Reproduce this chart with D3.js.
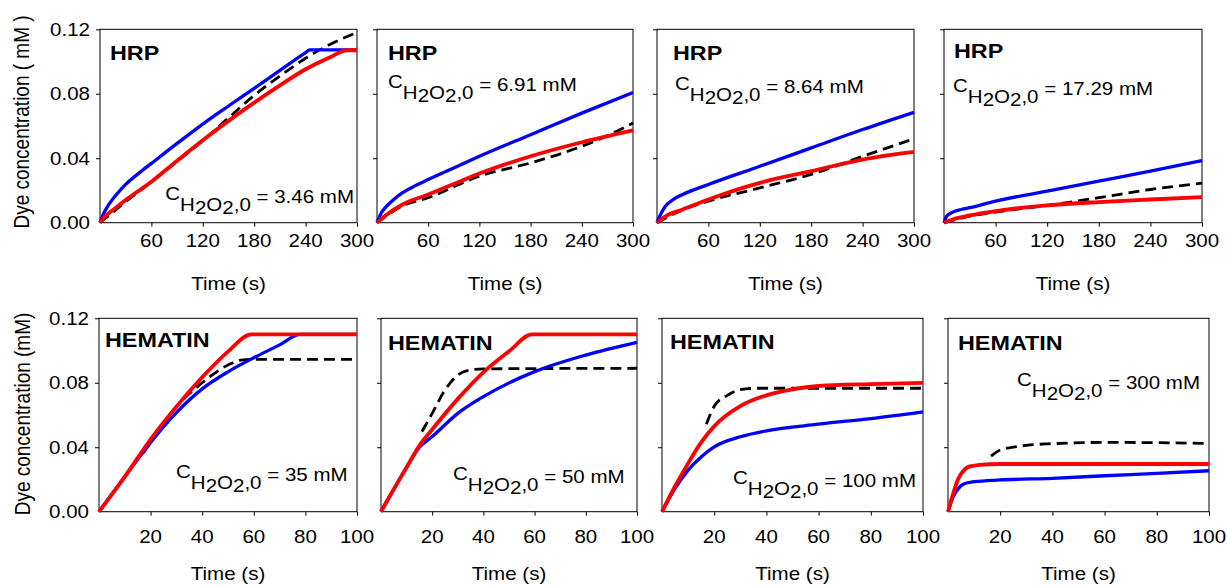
<!DOCTYPE html>
<html><head><meta charset="utf-8">
<script src="https://cdn.jsdelivr.net/npm/d3@7"></script>
<style>
html,body{margin:0;padding:0;background:#fff;}
svg text{font-family:"Liberation Sans",Arial,sans-serif;fill:#000;white-space:pre;}
</style></head>
<body>
<svg id="chart" width="1227" height="585"></svg>
<script>
// ---------- data ----------
const hrpTimeTicks = [60, 120, 180, 240, 300];
const hematinTimeTicks = [20, 40, 60, 80, 100];
const concTicks = [0, 0.04, 0.08, 0.12];
const concTickLabels = ["0.00", "0.04", "0.08", "0.12"];

const panelEnzymes = ["HRP", "HRP", "HRP", "HRP", "HEMATIN", "HEMATIN", "HEMATIN", "HEMATIN"];
const panelH2O2 = ["3.46", "6.91", "8.64", "17.29", "35", "50", "100", "300"];

// HRP, C = 3.46 mM
const p1Blue = [[0,0],[5,0.0065],[10,0.011],[20,0.018],[30,0.0238],[45,0.0306],[60,0.0368],[90,0.0492],[120,0.0612],[150,0.0724],[180,0.0834],[210,0.0945],[240,0.1055],[245,0.1072],[300,0.1072]];
const p1Red = [[0,0],[5,0.0035],[10,0.0058],[20,0.0099],[30,0.0141],[60,0.0254],[90,0.0385],[120,0.0512],[150,0.0632],[180,0.0745],[210,0.0852],[240,0.0952],[270,0.1030],[288,0.107],[300,0.107]];
const p1Dashed = [[0,0],[30,0.013],[60,0.0254],[90,0.038],[120,0.051],[150,0.065],[180,0.079],[210,0.091],[240,0.102],[270,0.111],[300,0.118]];
// HRP, C = 6.91 mM
const p2Blue = [[0,0],[5,0.006],[10,0.0095],[20,0.0145],[30,0.0186],[45,0.023],[60,0.0268],[90,0.034],[120,0.0412],[180,0.0546],[240,0.068],[300,0.0808]];
const p2Red = [[0,0],[10,0.0045],[30,0.0113],[60,0.0175],[90,0.024],[120,0.0305],[180,0.0412],[240,0.0499],[300,0.0573]];
const p2Dashed = [[0,0],[30,0.0105],[60,0.0155],[120,0.0289],[180,0.0371],[240,0.0474],[270,0.054],[300,0.0619]];
// HRP, C = 8.64 mM
const p3Blue = [[0,0],[5,0.006],[10,0.0103],[20,0.0148],[30,0.0175],[60,0.0237],[120,0.035],[180,0.0464],[240,0.0578],[300,0.0685]];
const p3Red = [[0,0],[10,0.004],[30,0.0082],[60,0.0144],[120,0.0247],[180,0.032],[240,0.0392],[300,0.0439]];
const p3Dashed = [[0,0],[30,0.008],[60,0.0134],[120,0.0216],[180,0.030],[240,0.0412],[300,0.052]];
// HRP, C = 17.29 mM
const p4Blue = [[0,0],[3,0.004],[10,0.0065],[20,0.0082],[30,0.0093],[60,0.0134],[120,0.0196],[180,0.0258],[240,0.032],[300,0.0386]];
const p4Red = [[0,0],[10,0.002],[30,0.0045],[60,0.0072],[120,0.0107],[180,0.0128],[240,0.0144],[300,0.0159]];
const p4Dashed = [[0,0],[30,0.004],[60,0.0066],[120,0.0107],[180,0.0155],[240,0.0206],[300,0.0245]];
// HEMATIN, C = 35 mM
const p5Blue = [[0,0],[10,0.0217],[20,0.043],[30,0.0615],[40,0.0762],[50,0.0868],[60,0.0955],[70,0.1035],[78,0.110],[100,0.110]];
const p5Red = [[0,0],[10,0.0217],[20,0.0449],[30,0.0652],[40,0.0834],[50,0.0993],[59,0.110],[100,0.110]];
const p5Dashed = [[17,0.0362],[20,0.043],[30,0.065],[40,0.080],[50,0.091],[55,0.0941],[60,0.0945],[100,0.0945]];
// HEMATIN, C = 50 mM
const p6Blue = [[0,0],[5,0.014],[10,0.0275],[15,0.04],[20,0.0466],[30,0.061],[40,0.0714],[60,0.0869],[80,0.0972],[100,0.1051]];
const p6Red = [[0,0],[5,0.014],[10,0.0275],[15,0.041],[20,0.0510],[30,0.0700],[40,0.0865],[50,0.0995],[59,0.110],[100,0.110]];
const p6Dashed = [[16,0.0497],[20,0.061],[25,0.0755],[30,0.0848],[35,0.0879],[40,0.0886],[100,0.089]];
// HEMATIN, C = 100 mM
const p7Blue = [[0,0],[5,0.0144],[10,0.0258],[15,0.034],[20,0.0402],[30,0.0465],[40,0.0502],[60,0.0543],[80,0.0578],[100,0.062]];
const p7Red = [[0,0],[5,0.0158],[10,0.0300],[15,0.0430],[20,0.0530],[30,0.0655],[40,0.0722],[50,0.0759],[60,0.078],[80,0.0792],[100,0.080]];
const p7Dashed = [[17,0.0543],[20,0.0654],[25,0.0722],[30,0.0758],[35,0.0766],[100,0.0766]];
// HEMATIN, C = 300 mM
const p8Blue = [[0,0],[2,0.0093],[4,0.0145],[6,0.0172],[10,0.0186],[20,0.0197],[40,0.0207],[60,0.0223],[80,0.0238],[100,0.0254]];
const p8Red = [[0,0],[2,0.0114],[4,0.0207],[6,0.0255],[8,0.028],[12,0.029],[20,0.0296],[100,0.0296]];
const p8Dashed = [[16.5,0.0345],[20,0.0383],[25,0.040],[30,0.0412],[40,0.0422],[60,0.043],[100,0.0424]];

const blueSeries = [p1Blue,p2Blue,p3Blue,p4Blue,p5Blue,p6Blue,p7Blue,p8Blue];
const redSeries = [p1Red,p2Red,p3Red,p4Red,p5Red,p6Red,p7Red,p8Red];
const dashedSeries = [p1Dashed,p2Dashed,p3Dashed,p4Dashed,p5Dashed,p6Dashed,p7Dashed,p8Dashed];

// ---------- layout ----------
const SX = 1.14;
const FONT = 18;
const rows = [
  {top: 29.3, bottom: 222.7, tmax: 300, ticks: hrpTimeTicks, tickBase: 24.5, titleY: 290, ytitle: "Dye concentration ( mM )", ytitleCenter: 122, ytitleX: 29},
  {top: 318.3, bottom: 511.7, tmax: 100, ticks: hematinTimeTicks, tickBase: 31.5, titleY: 580, ytitle: "Dye concentration (mM)", ytitleCenter: 414, ytitleX: 30}
];
const panels = [
  {row:0, x0:100, x1:357, lab:[110,60], ann:[354,203,"end"]},
  {row:0, x0:377, x1:633, lab:[388,60], ann:[388,91,"start"]},
  {row:0, x0:657, x1:914, lab:[673,60], ann:[675,93,"start"]},
  {row:0, x0:944, x1:1202, lab:[954,58], ann:[953,95,"start"]},
  {row:1, x0:99, x1:357, lab:[105,347], ann:[176,481,"start"]},
  {row:1, x0:381, x1:637, lab:[388,350], ann:[453,483,"start"]},
  {row:1, x0:662, x1:923, lab:[670,349], ann:[733,487,"start"]},
  {row:1, x0:948, x1:1209, lab:[958,350], ann:[1017,389,"start"]}
];

const svg = d3.select("#chart");

function txt(x, y, s, size, opts = {}) {
  const t = svg.append("text")
    .attr("transform", `translate(${x},${y}) scale(${SX},1)`)
    .attr("text-anchor", opts.anchor || "start")
    .style("font-size", size + "px")
    .style("font-weight", opts.bold ? "bold" : "normal")
    .text(s);
  if (opts.dy) t.attr("dy", opts.dy);
  return t;
}

panels.forEach((p, i) => {
  const r = rows[p.row];
  const x = d3.scaleLinear().domain([0, r.tmax]).range([p.x0, p.x1]);
  const y = d3.scaleLinear().domain([0, 0.12]).range([r.bottom, r.top]);
  const g = svg.append("g");

  // frame
  g.append("rect").attr("x", p.x0).attr("y", r.top).attr("width", p.x1 - p.x0).attr("height", r.bottom - r.top)
    .attr("fill", "none").attr("stroke", "#000").attr("stroke-width", 1);

  // x axis ticks
  const xa = d3.axisBottom(x).tickValues(r.ticks).tickSize(4).tickPadding(0).tickFormat("");
  const gx = g.append("g").attr("transform", `translate(0,${r.bottom})`).call(xa);
  gx.select(".domain").remove();
  gx.selectAll("line").attr("stroke", "#000");
  r.ticks.forEach(t => txt(x(t), r.bottom + r.tickBase, String(t), FONT, {anchor: "middle"}));

  // y axis ticks
  const ya = d3.axisLeft(y).tickValues(concTicks.slice(1)).tickSize(4).tickFormat("");
  const gy = g.append("g").attr("transform", `translate(${p.x0},0)`).call(ya);
  gy.select(".domain").remove();
  gy.selectAll("line").attr("stroke", "#000");
  if (i === 0 || i === 4) {
    concTicks.forEach((v, k) => txt(p.x0 - 10, y(v), concTickLabels[k], FONT, {anchor: "end", dy: "0.36em"}));
    svg.append("text")
      .attr("transform", `translate(${r.ytitleX},${r.ytitleCenter}) scale(${SX},1) rotate(-90)`)
      .attr("text-anchor", "middle").style("font-size", "19px").text(r.ytitle);
  }

  // x title
  txt((p.x0 + p.x1) / 2, r.titleY, "Time (s)", FONT, {anchor: "middle"});

  // lines
  const line = d3.line().x(d => x(d[0])).y(d => y(d[1])).curve(d3.curveMonotoneX);
  g.append("path").datum(dashedSeries[i]).attr("d", line).attr("fill", "none")
    .attr("stroke", "#000").attr("stroke-width", 2.8).attr("stroke-dasharray", "11,6");
  g.append("path").datum(blueSeries[i]).attr("d", line).attr("fill", "none")
    .attr("stroke", "#0000ff").attr("stroke-width", 3.3);
  g.append("path").datum(redSeries[i]).attr("d", line).attr("fill", "none")
    .attr("stroke", "#ff0000").attr("stroke-width", 3.8);

  // labels
  txt(p.lab[0], p.lab[1], panelEnzymes[i], 20.5, {bold: true});
  const a = svg.append("text")
    .attr("transform", `translate(${p.ann[0]},${p.ann[1]}) scale(${SX},1)`)
    .attr("text-anchor", p.ann[2]).style("font-size", FONT + "px");
  a.append("tspan").attr("dy", -3).text("C");
  a.append("tspan").attr("dy", 11).text("H");
  a.append("tspan").attr("dy", 3).text("2");
  a.append("tspan").attr("dy", -3).text("O");
  a.append("tspan").attr("dy", 3).text("2");
  a.append("tspan").attr("dy", -3).text(",0");
  a.append("tspan").attr("dy", -8).text(" = " + panelH2O2[i] + " mM");
});
</script>
</body></html>
